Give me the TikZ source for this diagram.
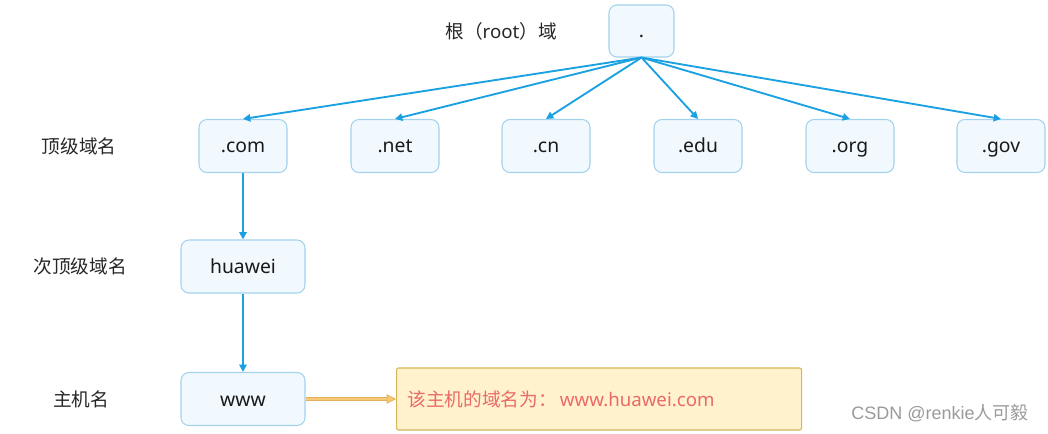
\documentclass[tikz,border=0pt]{standalone}
\usepackage{fontspec}
\setmainfont{Noto Sans}
\newfontfamily\cjk{Noto Sans CJK SC}
\newfontfamily\wmfont{Liberation Sans}
\usetikzlibrary{arrows.meta}
\definecolor{boxfill}{HTML}{F2F9FE}
\definecolor{boxline}{HTML}{A3D2EC}
\definecolor{arrowblue}{HTML}{1BA1E2}
\definecolor{notefill}{HTML}{FFF2CC}
\definecolor{noteline}{HTML}{D6B656}
\definecolor{notetext}{HTML}{EA6B66}
\definecolor{orangeline}{HTML}{F8C977}
\definecolor{orangeedge}{HTML}{E2AF5C}
\definecolor{wmgray}{HTML}{9A9A9A}
\tikzset{
  dombox/.style={draw=boxline, fill=boxfill, rounded corners=6pt, line width=0.8pt,
    inner sep=0pt, text height=13pt, text depth=2.5pt,
    font=\fontsize{14.5}{16}\selectfont, text=black!90},
  rootbox/.style={dombox, minimum width=48.75pt, minimum height=39pt},
  tldbox/.style={dombox, minimum width=66pt, minimum height=39.75pt},
  widebox/.style={dombox, minimum width=93pt, minimum height=39.75pt},
  lvlabel/.style={font=\cjk\fontsize{14}{16}\selectfont, text=black!85, inner sep=0pt},
  notebox/.style={draw=noteline, fill=notefill, rounded corners=1.5pt, line width=0.8pt,
    minimum height=46.5pt, text width=287.25pt, inner xsep=8.25pt, inner ysep=0pt, align=left,
    font=\fontsize{14}{16}\selectfont, text=notetext},
  bluearrow/.style={draw=arrowblue, line width=1.4pt, -{Triangle[length=5.5pt,width=5.5pt]}},
}
\begin{document}
\begin{tikzpicture}[x=0.75pt,y=-0.75pt]
\useasboundingbox (0,0) rectangle (1048,434);
% level labels
\node[lvlabel] (lroot) at (501,31) {根（\fontspec{Noto Sans}root\cjk）域};
\node[lvlabel] (ltld) at (79,146) {顶级域名};
\node[lvlabel] (lsld) at (80,266) {次顶级域名};
\node[lvlabel] (lhost) at (81,399) {主机名};
% boxes
\node[rootbox] (root) at (641.5,31) {.};
\node[tldbox] (com) at (243,146) {.com};
\node[tldbox] (net) at (395,146) {.net};
\node[tldbox] (cn) at (546,146) {.cn};
\node[tldbox] (edu) at (698,146) {.edu};
\node[tldbox] (org) at (850,146) {.org};
\node[tldbox] (gov) at (1001,146) {.gov};
\node[widebox] (huawei) at (243,266.5) {huawei};
\node[widebox] (www) at (243,399) {www};
\node[notebox, anchor=west] (note) at (396,399) {{\cjk 该主机的域名为：}\,www.huawei.com};
% connectors
\foreach \t in {com,net,cn,edu,org,gov}
  \draw[bluearrow] (root.south) -- (\t.north);
\draw[bluearrow] (com.south) -- (huawei.north);
\draw[bluearrow] (huawei.south) -- (www.north);
\draw[draw=orangeedge, line width=3pt] (www.east) -- ([xshift=-7pt]note.west);
\draw[draw=orangeline, line width=1.6pt, -{Triangle[length=7pt,width=7pt,fill=orangeline,color=orangeedge,line width=0.6pt]}] (www.east) -- (note.west);
% watermark
\node[font=\wmfont\fontsize{13.5}{15}\selectfont, text=wmgray, inner sep=0pt] (wm) at (940,413) {CSDN @renkie{\cjk 人可毅}};
\end{tikzpicture}
\end{document}
